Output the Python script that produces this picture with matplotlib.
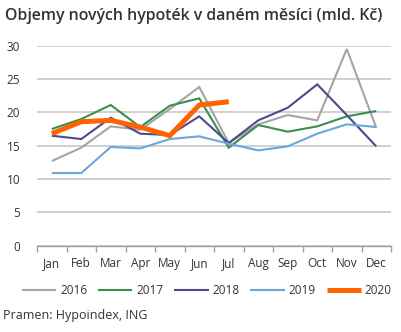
import matplotlib.pyplot as plt
import numpy as np

months = ['Jan', 'Feb', 'Mar', 'Apr', 'May', 'Jun', 'Jul', 'Aug', 'Sep', 'Oct', 'Nov', 'Dec']
y2016 = [12.7, 14.7, 17.9, 17.4, 20.5, 23.8, 15.4, 18.2, 19.6, 18.8, 29.5, 17.7]
y2017 = [17.5, 19.0, 21.1, 17.8, 21.0, 22.1, 14.7, 18.1, 17.1, 17.9, 19.4, 20.2]
y2018 = [16.5, 16.0, 19.2, 16.8, 16.6, 19.4, 15.4, 18.8, 20.7, 24.2, 19.6, 14.9]
y2019 = [10.9, 10.9, 14.8, 14.6, 16.0, 16.4, 15.3, 14.3, 14.9, 16.8, 18.2, 17.8]
y2020 = [16.8, 18.6, 18.8, 17.8, 16.5, 21.1, 21.6]

series = [('2016', y2016, '#A5A5A5', 1.5),
          ('2017', y2017, '#3A8F4E', 1.5),
          ('2018', y2018, '#4B4A8C', 1.5),
          ('2019', y2019, '#6AA7DA', 1.5),
          ('2020', y2020, '#FF6200', 3.6)]

plt.rcParams['font.family'] = ['Open Sans', 'DejaVu Sans']

fig = plt.figure(figsize=(4.01, 3.32), dpi=100)
ax = fig.add_axes([37 / 401, 1 - 245.7 / 332, 354 / 401, 200 / 332])

x = np.arange(len(months))
for name, vals, col, lw in series:
    ax.plot(x[:len(vals)], vals, color=col, lw=lw, label=name,
            solid_joinstyle='miter' if lw < 2 else 'round', solid_capstyle='butt')

ax.set_xlim(-0.5, 11.5)
ax.set_ylim(0, 30)
ax.set_yticks(range(0, 31, 5))
ax.grid(axis='y', color='#C8C8C8', lw=1.2)
ax.set_axisbelow(True)
for s in ['top', 'right', 'left']:
    ax.spines[s].set_visible(False)
ax.spines['bottom'].set_color('#A0A0A0')
ax.spines['bottom'].set_linewidth(1.0)
ax.set_xticks(x)
ax.set_xticklabels(months)
ax.set_xticks(np.arange(-0.5, 12, 1), minor=True)
ax.tick_params(axis='x', which='major', length=0, pad=8, labelsize=8.5, colors='#333333')
ax.tick_params(axis='x', which='minor', length=4, color='#A0A0A0', width=1)
ax.tick_params(axis='y', length=0, pad=12, labelsize=8.5, colors='#333333')

fig.text(5 / 401, 1 - 16 / 332, 'Objemy nových hypoték v daném měsíci (mld. Kč)',
         fontsize=11.4, fontweight='semibold', color='#333333', va='center', ha='left')

fig.legend(loc='center', bbox_to_anchor=(207 / 401, 1 - 291 / 332), ncol=5, frameon=False,
           fontsize=8.5, handlelength=2.9, columnspacing=0.9, handletextpad=0.35,
           labelcolor='#333333')

fig.text(3 / 401, 1 - 315 / 332, 'Pramen: Hypoindex, ING', fontsize=9, color='#333333',
         va='center', ha='left')

fig.savefig('out.png', dpi=100)
